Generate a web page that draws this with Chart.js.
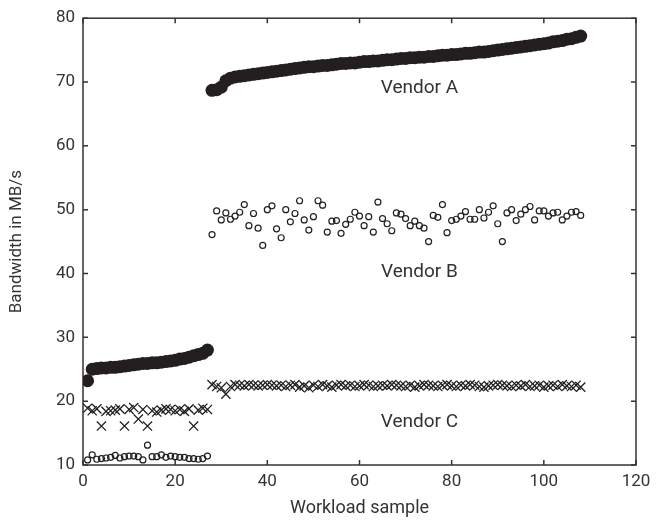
<!DOCTYPE html>
<html>
<head>
<meta charset="utf-8">
<script src="https://cdn.jsdelivr.net/npm/chart.js@4/dist/chart.umd.min.js"></script>
<style>
html,body{margin:0;padding:0;background:#fff;}
#wrap{width:669px;height:523px;position:relative;}
</style>
</head>
<body>
<div id="wrap"><canvas id="c" width="669" height="523"></canvas></div>
<script>
// Workload sample index runs 1..108 (position in arrays below)
const vendorA = [
  23.2,25.0,25.1,25.2,25.2,25.3,25.3,25.4,25.5,25.6,25.7,25.8,25.9,25.9,26.0,26.0,26.1,26.2,26.3,26.4,26.6,26.7,26.9,27.1,27.3,27.5,28.0,
  68.7,68.8,69.2,70.2,70.6,70.8,70.9,71.0,71.1,71.2,71.3,71.4,71.5,71.6,71.7,71.8,71.9,72.0,72.1,72.2,72.3,72.4,72.4,72.5,72.6,72.6,72.7,72.8,72.9,72.9,
  73.0,73.0,73.1,73.2,73.2,73.3,73.3,73.4,73.5,73.5,73.6,73.7,73.7,73.8,73.8,73.9,73.9,74.0,74.0,74.1,74.2,74.2,74.3,74.3,74.4,74.5,74.5,74.6,74.7,74.7,
  74.8,74.9,75.0,75.1,75.2,75.3,75.4,75.5,75.6,75.7,75.8,75.9,76.0,76.1,76.3,76.4,76.5,76.7,76.8,77.0,77.2
];
const vendorB = [
  10.8,11.6,10.9,11.0,11.1,11.2,11.5,11.1,11.3,11.4,11.4,11.3,10.8,13.1,11.3,11.3,11.6,11.2,11.4,11.3,11.2,11.2,11.0,11.0,10.9,11.0,11.4,
  46.1,49.8,48.4,49.5,48.5,49.0,49.6,50.8,47.5,49.4,47.1,44.4,50.0,50.6,47.0,45.6,50.0,48.1,49.4,51.4,48.4,46.8,48.9,51.4,50.7,46.5,48.2,48.3,46.3,47.7,
  48.5,49.6,49.0,47.5,48.9,46.5,51.2,48.6,47.8,46.7,49.5,49.3,48.6,47.5,48.2,47.5,47.1,45.0,49.1,48.8,50.8,46.4,48.3,48.5,49.0,49.7,48.5,48.5,50.0,48.7,
  49.6,50.6,47.8,45.0,49.5,50.0,48.3,49.3,50.0,50.5,48.4,49.8,49.8,49.0,49.5,49.6,48.4,49.0,49.6,49.7,49.1
];
const vendorC = [
  18.9,18.5,18.8,16.1,18.4,18.5,18.6,18.8,16.1,18.7,19.0,17.2,18.7,16.1,18.5,18.3,18.6,18.8,18.7,18.5,18.7,18.4,18.8,16.1,18.6,18.9,18.7,
  22.6,22.3,22.1,21.1,22.3,22.6,22.5,22.4,22.6,22.5,22.4,22.5,22.6,22.5,22.4,22.5,22.3,22.5,22.6,22.2,
  22.4,22.1,22.5,22.3,22.6,22.4,22.2,22.5,22.6,22.4,22.5,22.3,22.4,22.6,22.5,22.3,22.4,22.5,22.4,22.6,
  22.5,22.4,22.3,22.5,22.2,22.4,22.6,22.5,22.4,22.3,22.5,22.6,22.4,22.3,22.5,22.4,22.6,22.5,22.3,22.2,
  22.4,22.5,22.6,22.5,22.4,22.3,22.5,22.4,22.6,22.3,22.4,22.5,22.2,22.4,22.5,22.3,22.6,22.4,22.3,22.5,22.2
];
const seriesNames = ['Vendor A','Vendor B','Vendor C'];
// label anchor points in data units
const labelX = [73, 73, 73];
const labelY = [69.0, 40.2, 16.7];
const xTicks = [0,20,40,60,80,100,120];
const yTicks = [10,20,30,40,50,60,70,80];

const INK = '#231f20';
const AXIS = '#333333';
const toPts = arr => arr.map((v,i)=>({x:i+1,y:v}));

const framePlugin = {
  id:'frame',
  beforeDatasetsDraw(chart){
    const {ctx, chartArea:a, scales:{x,y}} = chart;
    ctx.save();
    ctx.strokeStyle = AXIS; ctx.lineWidth = 1.5;
    ctx.strokeRect(a.left, a.top, a.right-a.left, a.bottom-a.top);
    const L = 5;
    ctx.beginPath();
    xTicks.forEach(t=>{
      const px = x.getPixelForValue(t);
      ctx.moveTo(px, a.bottom); ctx.lineTo(px, a.bottom-L);
      ctx.moveTo(px, a.top); ctx.lineTo(px, a.top+L);
    });
    yTicks.forEach(t=>{
      const py = y.getPixelForValue(t);
      ctx.moveTo(a.left, py); ctx.lineTo(a.left+L, py);
      ctx.moveTo(a.right, py); ctx.lineTo(a.right-L, py);
    });
    ctx.stroke();
    ctx.restore();
  },
  afterDatasetsDraw(chart){
    const {ctx, scales:{x,y}} = chart;
    ctx.save();
    ctx.fillStyle = AXIS;
    ctx.font = '19px Roboto';
    ctx.textAlign = 'center'; ctx.textBaseline = 'middle';
    seriesNames.forEach((n,i)=>{
      ctx.fillText(n, x.getPixelForValue(labelX[i]), y.getPixelForValue(labelY[i]));
    });
    ctx.restore();
  }
};

new Chart(document.getElementById('c'), {
  type:'scatter',
  data:{
    datasets:[
      {label:seriesNames[1], data:toPts(vendorB), pointStyle:'circle', pointRadius:3, backgroundColor:'rgba(0,0,0,0)', borderColor:INK, borderWidth:1.2},
      {label:seriesNames[2], data:toPts(vendorC), pointStyle:'crossRot', pointRadius:6.5, backgroundColor:INK, borderColor:INK, borderWidth:1.3},
      {label:seriesNames[0], data:toPts(vendorA), pointStyle:'circle', pointRadius:6.5, backgroundColor:INK, borderColor:INK, borderWidth:0}
    ]
  },
  options:{
    responsive:false,
    animation:false,
    events:[],
    layout:{padding:{top:17,right:33,left:0,bottom:0}},
    plugins:{legend:{display:false}, tooltip:{enabled:false}},
    scales:{
      x:{
        type:'linear', min:0, max:120,
        afterBuildTicks(s){ s.ticks = xTicks.map(v=>({value:v})); },
        afterFit(s){ s.height = 58; },
        grid:{display:false, drawTicks:false},
        border:{display:false},
        ticks:{color:AXIS, font:{family:'Roboto', size:17}, padding:7, maxRotation:0},
        title:{display:true, text:'Workload sample', color:AXIS, font:{family:'Roboto', size:18}, padding:{top:0,bottom:4}}
      },
      y:{
        type:'linear', min:10, max:80,
        afterBuildTicks(s){ s.ticks = yTicks.map(v=>({value:v})); },
        afterFit(s){ s.width = 83; },
        grid:{display:false, drawTicks:false},
        border:{display:false},
        ticks:{color:AXIS, font:{family:'Roboto', size:17}, padding:8},
        title:{display:true, text:'Bandwidth in MB/s', color:AXIS, font:{family:'Roboto', size:17}, padding:{top:7,bottom:0}}
      }
    }
  },
  plugins:[framePlugin]
});
</script>
</body>
</html>
